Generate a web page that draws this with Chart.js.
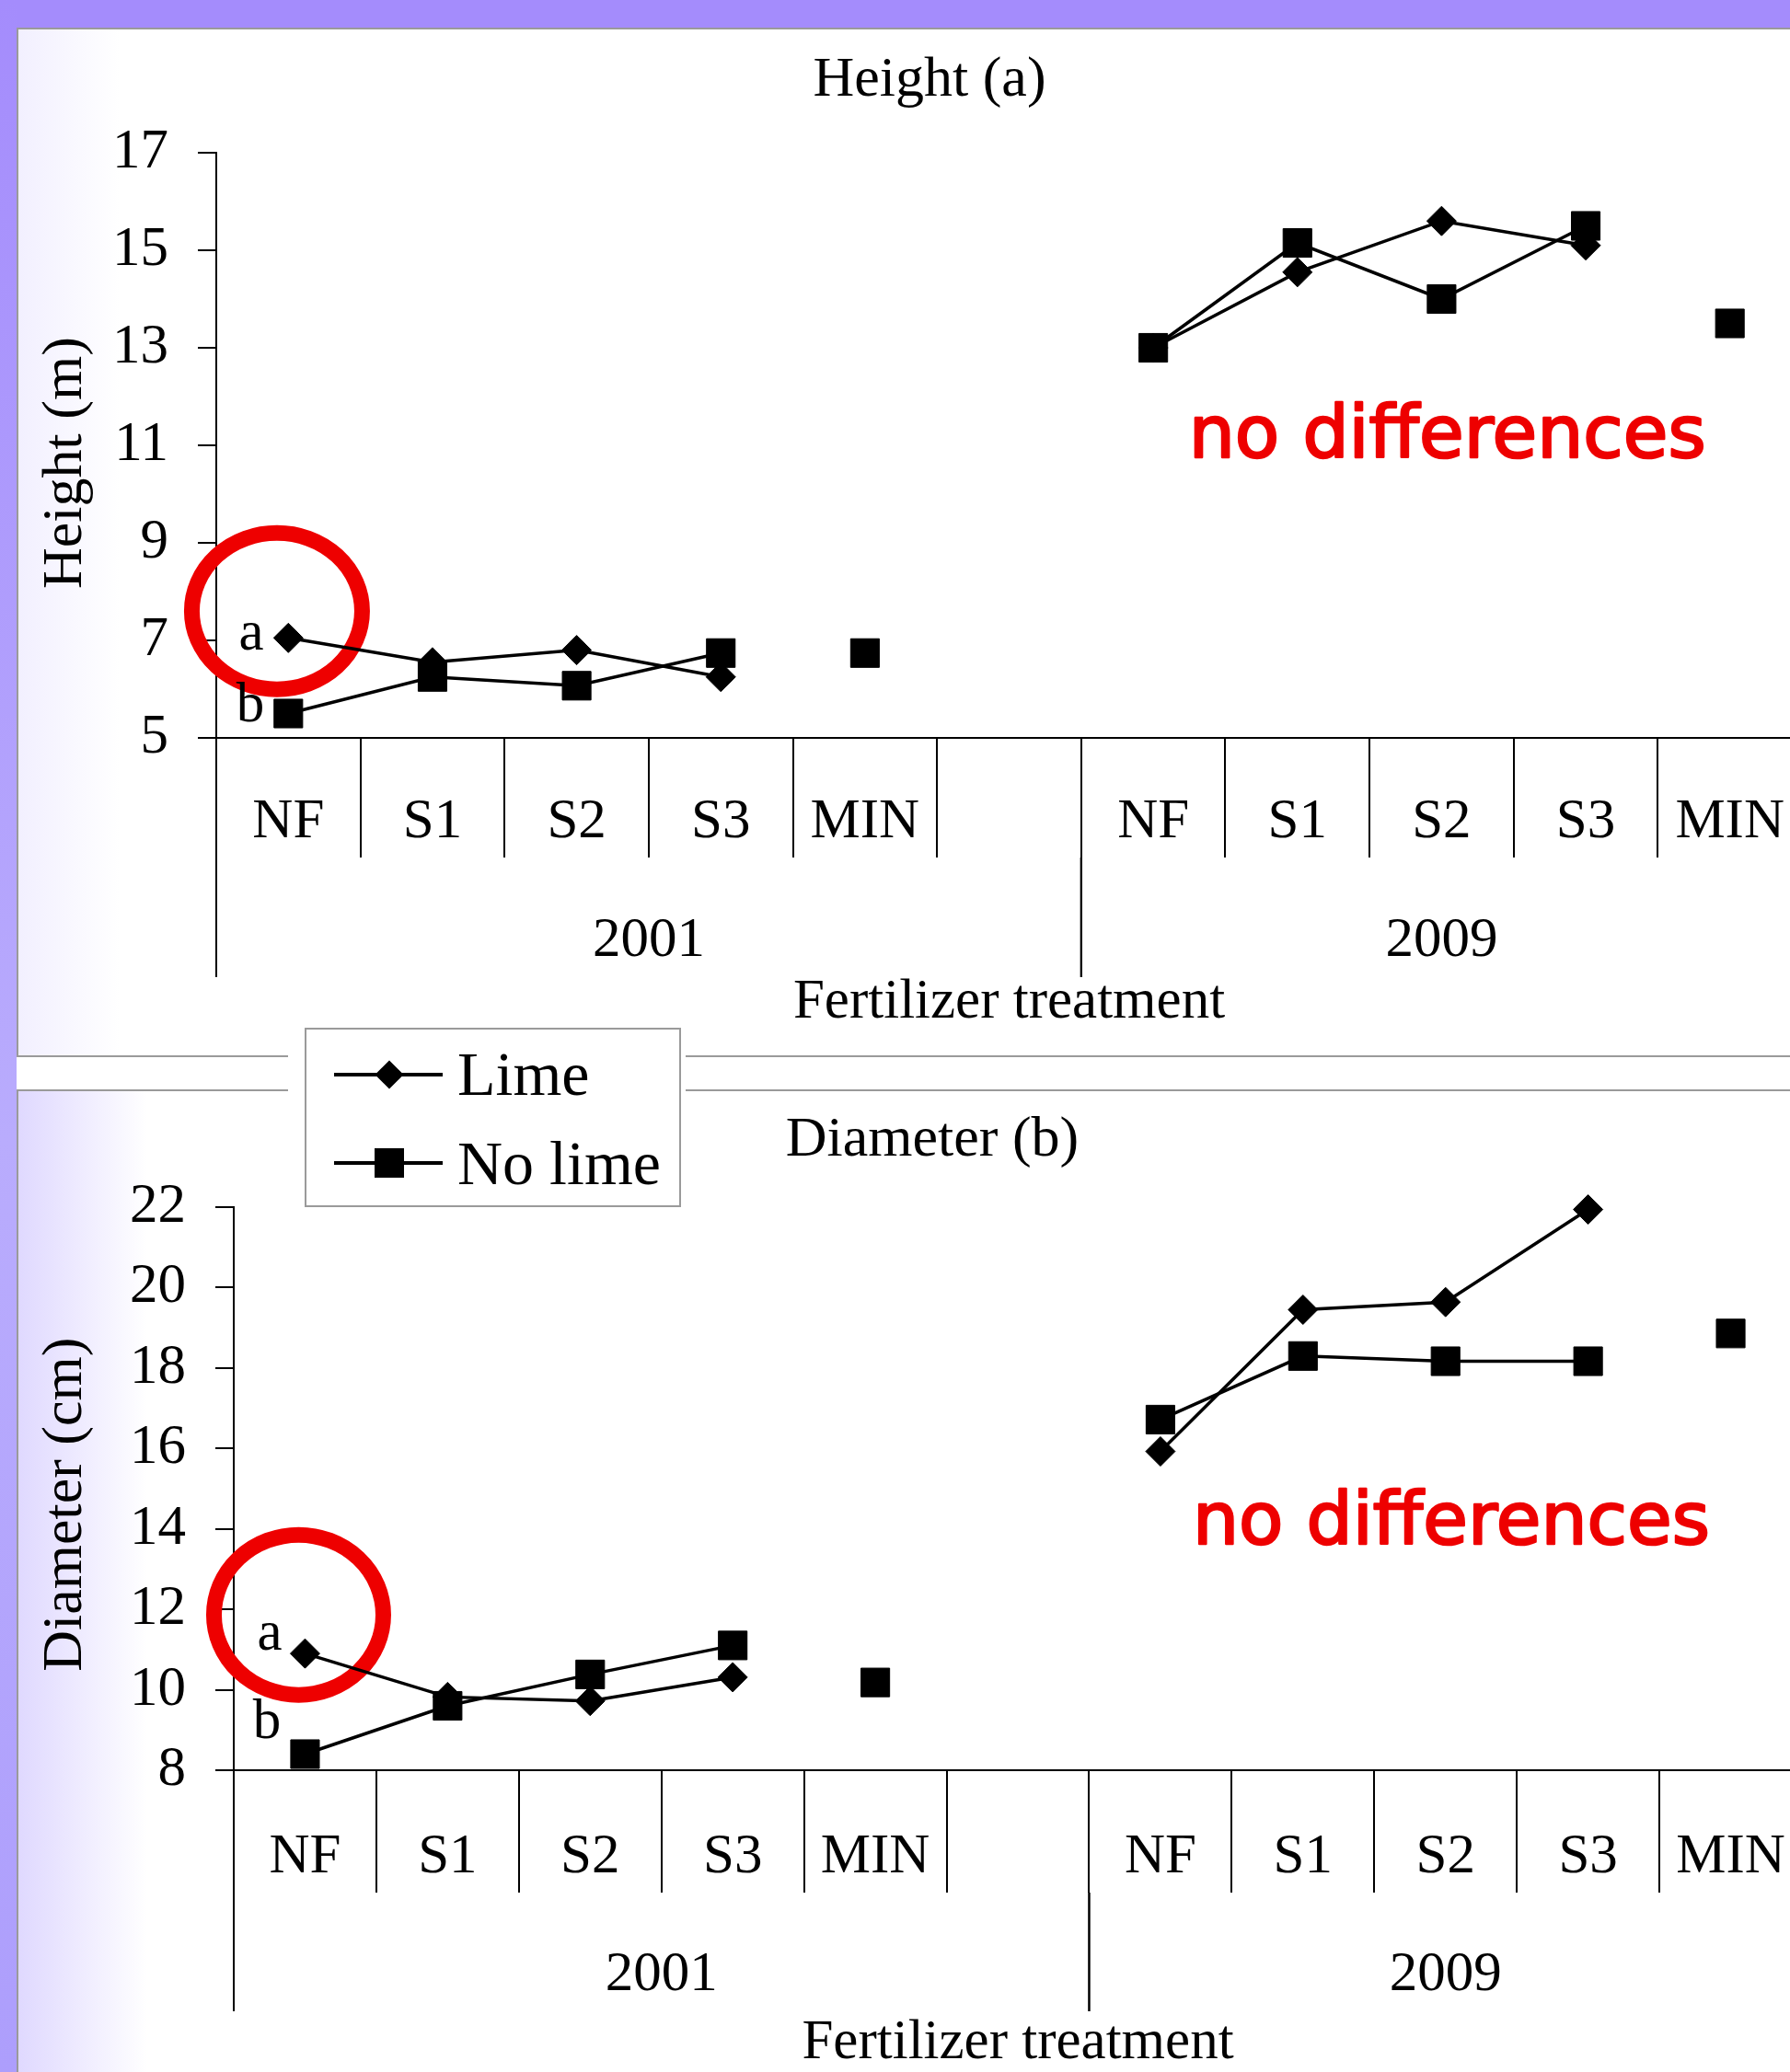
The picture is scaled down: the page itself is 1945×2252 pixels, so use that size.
<!DOCTYPE html>
<html>
<head>
<meta charset="utf-8">
<title>Height and diameter by fertilizer treatment</title>
<script src="https://cdn.jsdelivr.net/npm/chart.js@4.4.1/dist/chart.umd.min.js"></script>
<style>
  html, body { margin: 0; padding: 0; width: 1945px; height: 2252px; overflow: hidden; background: #fff; }
  #bgTop { position: absolute; left: 0; top: 0; width: 1945px; height: 30px; background: #a48cfc; }
  #bgLeft { position: absolute; left: 0; top: 0; width: 18px; height: 2252px;
            background: linear-gradient(#a48cfc, #b9acfd 55%, #ad9efc); }
  .panel { position: absolute; left: 18px; box-sizing: border-box; border: 2px solid #9a9a9a; border-right: none; }
  #p1 { top: 30px; width: 2000px; height: 1119px;
        background: linear-gradient(to right, rgba(190,178,255,0.2), rgba(255,255,255,0) 110px), #fff; }
  #p2 { top: 1184px; width: 2000px; height: 1200px; border-bottom: none;
        background: linear-gradient(to right, rgba(185,170,255,0.45), rgba(255,255,255,0) 140px), #fff; }
  canvas { position: absolute; left: 0; }
  #c1 { top: 0; }
  #c2 { top: 1150px; }
  #legendWrap { position: absolute; left: 313px; top: 1117px; height: 195px; padding: 0 5px 0 18px; background: #fff; }
  #legend { position: relative; box-sizing: border-box; width: 409px; height: 195px; border: 2px solid #9a9a9a; background: #fff;
            font-family: "Liberation Serif", "Times New Roman", serif; font-size: 68px; line-height: 68px; color: #000; }
  #legend .ln { position: absolute; left: 30px; width: 118px; height: 4px; background: #000; }
  #legend .dia { position: absolute; width: 22px; height: 22px; background: #000; transform: rotate(45deg); }
  #legend .sq { position: absolute; width: 32px; height: 32px; background: #000; }
  #legend .tx { position: absolute; left: 164px; white-space: nowrap; }
</style>
</head>
<body>
<div id="bgTop"></div>
<div id="bgLeft"></div>
<div class="panel" id="p1"></div>
<div class="panel" id="p2"></div>
<canvas id="c1" width="2020" height="1150" style="width:2020px;height:1150px"></canvas>
<canvas id="c2" width="2020" height="1102" style="width:2020px;height:1102px"></canvas>
<div id="legendWrap">
  <div id="legend">
    <div class="ln" style="top:47px"></div>
    <div class="dia" style="left:79px;top:38px"></div>
    <div class="tx" style="top:14px" id="lg0"></div>
    <div class="ln" style="top:143px"></div>
    <div class="sq" style="left:74px;top:129px"></div>
    <div class="tx" style="top:111px" id="lg1"></div>
  </div>
</div>
<script>
// categories along the x axis (blank slot separates the two years)
const categories = ['NF', 'S1', 'S2', 'S3', 'MIN', '', 'NF', 'S1', 'S2', 'S3', 'MIN'];
const years = ['2001', '2009'];
const yearSpans = [[0, 5], [6, 10]];
const seriesNames = ['Lime', 'No lime'];

// Height (m)
const heightLime   = [7.05, 6.55, 6.8, 6.25, null, null, 13.0, 14.55, 15.6, 15.1, null];
const heightNoLime = [5.5, 6.25, 6.07, 6.74, 6.74, null, 13.0, 15.15, 14.0, 15.5, 13.5];
const heightTicks  = [5, 7, 9, 11, 13, 15, 17];

// Diameter (cm)
const diameterLime   = [10.9, 9.82, 9.72, 10.31, null, null, 15.92, 19.44, 19.63, 21.93, null];
const diameterNoLime = [8.4, 9.6, 10.38, 11.1, 10.18, null, 16.71, 18.29, 18.16, 18.16, 18.85];
const diameterTicks  = [8, 10, 12, 14, 16, 18, 20, 22];

const sigLetters = ['a', 'b'];
const noteText = 'no differences';

const SERIF = '"Liberation Serif", "Times New Roman", serif';
const RED = '#ee0000';

document.getElementById('lg0').textContent = seriesNames[0];
document.getElementById('lg1').textContent = seriesNames[1];

// titles, year groups, letters, ring and the red note
const deco = {
  id: 'deco',
  beforeDatasetsDraw(chart, args, o) {
    const { ctx } = chart;
    const x = chart.scales.x, y = chart.scales.y;
    ctx.save();
    ctx.strokeStyle = RED;
    ctx.lineWidth = 17;
    ctx.beginPath();
    ctx.ellipse(x.getPixelForValue(o.ring.x), y.getPixelForValue(o.ring.y), o.ring.rx, o.ring.ry, 0, 0, Math.PI * 2);
    ctx.stroke();
    ctx.fillStyle = '#000';
    ctx.font = '61px ' + SERIF;
    ctx.textAlign = 'center';
    ctx.textBaseline = 'middle';
    o.letters.forEach((l, i) => {
      ctx.fillText(sigLetters[i], x.getPixelForValue(l.x), y.getPixelForValue(l.y));
    });
    ctx.restore();
  },
  afterDraw(chart, args, o) {
    const { ctx, chartArea } = chart;
    const x = chart.scales.x, y = chart.scales.y;
    const base = chartArea.bottom;
    ctx.save();
    ctx.strokeStyle = '#000';
    ctx.lineWidth = 2;
    ctx.fillStyle = '#000';
    ctx.textAlign = 'center';
    ctx.textBaseline = 'middle';
    ctx.font = '61px ' + SERIF;
    yearSpans.forEach(([a, b], i) => {
      const left = x.getPixelForValue(a - 0.5);
      const right = x.getPixelForValue(b + 0.5);
      [left, right].forEach(px => {
        ctx.beginPath();
        ctx.moveTo(px, base + o.tickLen);
        ctx.lineTo(px, base + o.longLen);
        ctx.stroke();
      });
      ctx.fillText(years[i], (left + right) / 2, base + o.yearDy);
    });
    ctx.fillText('Fertilizer treatment', (chartArea.left + chartArea.right) / 2, base + o.xTitleDy);

    ctx.font = '62px ' + SERIF;
    ctx.fillText(o.title.text, o.title.x, o.title.y);

    ctx.save();
    ctx.translate(o.yTitle.x, y.getPixelForValue(o.yTitle.v));
    ctx.rotate(-Math.PI / 2);
    ctx.fillText(o.yTitle.text, 0, 0);
    ctx.restore();

    ctx.fillStyle = RED;
    ctx.strokeStyle = RED;
    ctx.lineWidth = 2.5;
    ctx.lineJoin = 'round';
    ctx.font = '78px "Comic Sans MS", "DejaVu Sans", sans-serif';
    const w = ctx.measureText(noteText).width;
    const fs = 78 * 562 / w;
    ctx.font = fs.toFixed(1) + 'px "Comic Sans MS", "DejaVu Sans", sans-serif';
    const nx = x.getPixelForValue(o.note.x), ny = y.getPixelForValue(o.note.y);
    ctx.fillText(noteText, nx, ny);
    ctx.strokeText(noteText, nx, ny);
    ctx.restore();
  }
};

function makeChart(id, lime, noLime, ticks, geo, decoOpts) {
  const hideMinLink = ctx => categories[ctx.p1DataIndex] === 'MIN' ? 'rgba(0,0,0,0)' : '#000';
  return new Chart(document.getElementById(id), {
    type: 'line',
    data: {
      labels: categories,
      datasets: [
        {
          label: seriesNames[0],
          data: lime,
          borderColor: '#000',
          backgroundColor: '#000',
          borderWidth: 3.5,
          pointStyle: 'rectRot',
          pointRadius: 16,
          pointBorderWidth: 1,
          pointBackgroundColor: '#000',
          pointBorderColor: '#000',
          spanGaps: false,
          clip: false
        },
        {
          label: seriesNames[1],
          data: noLime,
          borderColor: '#000',
          backgroundColor: '#000',
          borderWidth: 3.5,
          pointStyle: 'rect',
          pointRadius: 22,
          pointBorderWidth: 1,
          pointBackgroundColor: '#000',
          pointBorderColor: '#000',
          spanGaps: false,
          clip: false,
          segment: { borderColor: hideMinLink }
        }
      ]
    },
    options: {
      responsive: false,
      animation: false,
      devicePixelRatio: 1,
      layout: { padding: { top: geo.top, left: 0, right: 62, bottom: 0 } },
      plugins: {
        legend: { display: false },
        tooltip: { enabled: false },
        deco: decoOpts
      },
      scales: {
        x: {
          type: 'category',
          offset: true,
          afterFit(s) { s.height = geo.xHeight; },
          grid: {
            offset: true,
            drawOnChartArea: false,
            drawTicks: true,
            tickLength: decoOpts.tickLen,
            color: '#000',
            lineWidth: 2
          },
          border: { display: true, color: '#000', width: 2 },
          ticks: {
            autoSkip: false,
            maxRotation: 0,
            color: '#000',
            padding: geo.labelPad,
            font: { family: SERIF, size: 61 }
          }
        },
        y: {
          min: ticks[0],
          max: ticks[ticks.length - 1],
          afterFit(s) { s.width = geo.yWidth; },
          grid: {
            drawOnChartArea: false,
            drawTicks: true,
            tickLength: 20,
            color: '#000',
            lineWidth: 2
          },
          border: { display: true, color: '#000', width: 2 },
          ticks: {
            stepSize: ticks[1] - ticks[0],
            color: '#000',
            padding: 32,
            font: { family: SERIF, size: 61 }
          }
        }
      }
    },
    plugins: [deco]
  });
}

makeChart('c1', heightLime, heightNoLime, heightTicks,
  { top: 166, yWidth: 235, xHeight: 348, labelPad: -75 },
  {
    tickLen: 130, longLen: 260, yearDy: 221, xTitleDy: 288,
    title: { text: 'Height (a)', x: 1010, y: 88 },
    yTitle: { text: 'Height (m)', x: 72, v: 10.64 },
    ring: { x: -0.079, y: 7.6, rx: 92.5, ry: 85 },
    letters: [{ x: -0.257, y: 7.11 }, { x: -0.264, y: 5.64 }],
    note: { x: 8.04, y: 11.15 }
  });

makeChart('c2', diameterLime, diameterNoLime, diameterTicks,
  { top: 161.5, yWidth: 254, xHeight: 328, labelPad: -75 },
  {
    tickLen: 133, longLen: 262, yearDy: 223, xTitleDy: 297,
    title: { text: 'Diameter (b)', x: 1013, y: 90 },
    yTitle: { text: 'Diameter (cm)', x: 72, v: 14.6 },
    ring: { x: -0.045, y: 11.86, rx: 92, ry: 87 },
    letters: [{ x: -0.248, y: 11.37 }, { x: -0.268, y: 9.17 }],
    note: { x: 8.04, y: 14.1 }
  });
</script>
</body>
</html>
